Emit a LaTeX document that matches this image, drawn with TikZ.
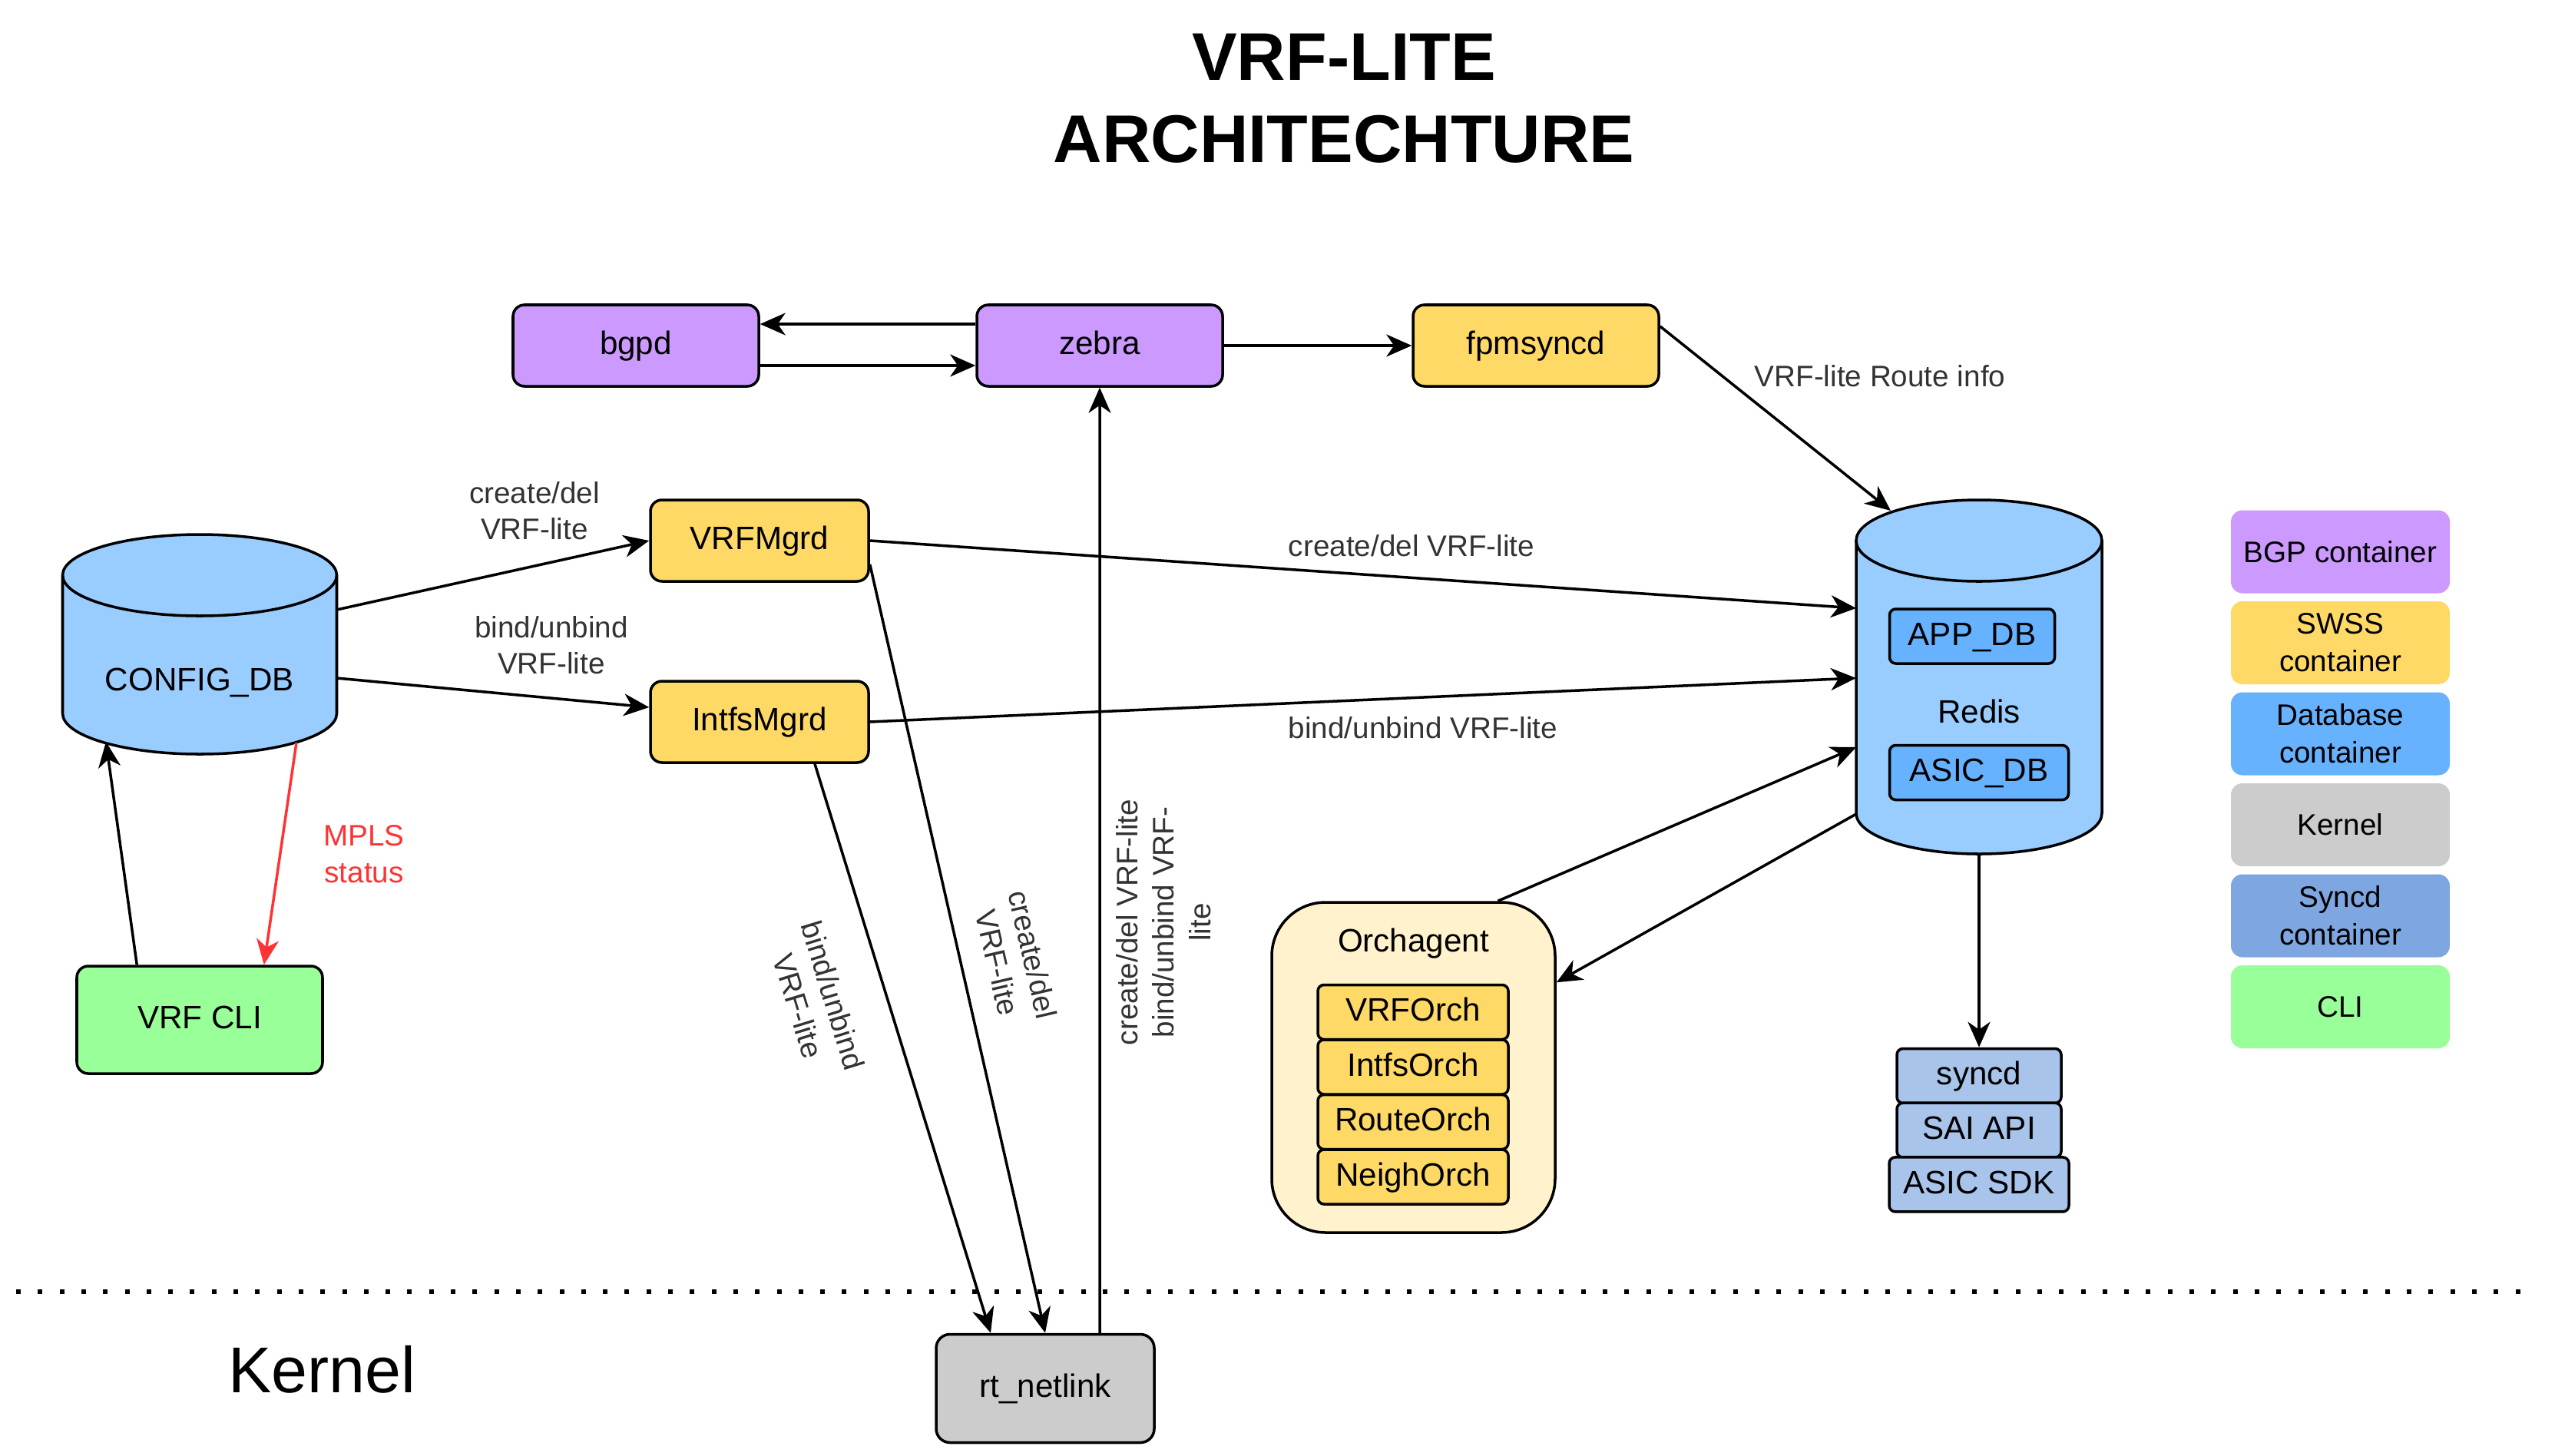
\documentclass[tikz,border=0pt]{standalone}
\usepackage{fontspec}
\setmainfont{Liberation Sans}
\usetikzlibrary{arrows.meta,backgrounds}

\definecolor{bgppurple}{HTML}{CC99FF}
\definecolor{swssyellow}{HTML}{FFD966}
\definecolor{dbblue}{HTML}{99CCFF}
\definecolor{dbinner}{HTML}{66B2FF}
\definecolor{kernelgray}{HTML}{CCCCCC}
\definecolor{syncdblue}{HTML}{7EA6E0}
\definecolor{syncdbox}{HTML}{A9C4EB}
\definecolor{cligreen}{HTML}{99FF99}
\definecolor{orchfill}{HTML}{FFF2CC}
\definecolor{mplsred}{HTML}{FF3333}

\begin{document}
\begin{tikzpicture}[
        font=\fontsize{12}{14}\selectfont,
        titletext/.style={font=\bfseries\fontsize{25}{30.4}\selectfont,align=center,inner sep=0pt},
        box/.style={draw,line width=1pt,rounded corners=0.15cm,minimum height=1.06cm,inner sep=0pt,text height=0.72em,text depth=0.05em},
        bgpbox/.style={box,fill=bgppurple,minimum width=3.2cm},
        swssbox/.style={box,fill=swssyellow,minimum width=2.84cm},
        stackbox/.style={draw,line width=1pt,rounded corners=0.08cm,minimum height=0.71cm,inner sep=0pt,text height=0.72em,text depth=0.05em},
        dbbody/.style={inner sep=0pt,outer sep=0pt},
        dbline/.style={draw,line width=1pt,fill=dbblue},
        orchbox/.style={draw,line width=1pt,fill=orchfill,rounded corners=0.7cm,minimum width=3.69cm,minimum height=4.30cm},
        lbl/.style={font=\fontsize{11}{13.5}\selectfont,align=center,text=black!80,inner sep=1pt},
        legendbox/.style={rounded corners=0.15cm,minimum width=2.85cm,minimum height=1.08cm,align=center,inner sep=0pt,font=\fontsize{11}{14}\selectfont},
        conn/.style={line width=1pt,-{Stealth[length=0.33cm,width=0.29cm,inset=0.1cm]}}
    ]
        \useasboundingbox (0,0) rectangle (33.27,-18.96);

        \node[titletext] (Title) at (17.5,-1.28) {VRF-LITE\\ARCHITECHTURE};

        % BGP and SWSS daemons
        \node[bgpbox] (Bgpd) at (8.28,-4.50) {bgpd};
        \node[bgpbox] (Zebra) at (14.32,-4.50) {zebra};
        \node[swssbox,minimum width=3.2cm] (Fpmsyncd) at (20.00,-4.50) {fpmsyncd};

        \node[swssbox] (VRFMgrd) at (9.89,-7.04) {VRFMgrd};
        \node[swssbox] (IntfsMgrd) at (9.89,-9.40) {IntfsMgrd};

        % Databases, cylinders go behind
        \node[dbbody,minimum width=3.57cm,minimum height=1.80cm,text depth=0.15cm] (ConfigDB) at (2.60,-8.92) {CONFIG\_DB};
        \node[dbbody,minimum width=3.2cm,minimum height=3.55cm,text depth=0.16cm] (Redis) at (25.77,-9.345) {Redis};
        \node[stackbox,fill=dbinner,minimum width=2.15cm] (AppDB) at (25.68,-8.285) {APP\_DB};
        \node[stackbox,fill=dbinner,minimum width=2.33cm] (AsicDB) at (25.77,-10.06) {ASIC\_DB};

        \begin{scope}[on background layer]
            \foreach \db/\r in {ConfigDB/1.785,Redis/1.6}
            {
                \draw[dbline] ([yshift=0.53cm]\db.north west) -- ([yshift=0.53cm]\db.south west)
                arc[start angle=180,end angle=360,x radius=\r cm,y radius=0.53cm]
                -- ([yshift=0.53cm]\db.north east)
                arc[start angle=0,end angle=180,x radius=\r cm,y radius=0.53cm] -- cycle;
                \draw[line width=1pt] ([yshift=0.53cm]\db.north west)
                arc[start angle=180,end angle=360,x radius=\r cm,y radius=0.53cm];
            }
        \end{scope}

        \node[box,fill=cligreen,minimum width=3.2cm,minimum height=1.40cm] (VRFCLI) at (2.60,-13.28) {VRF CLI};

        % Orchagent
        \node[orchbox] (Orchagent) at (18.405,-13.90) {};
        \node (OrchagentName) at ([yshift=-0.55cm]Orchagent.north) {Orchagent};
        \foreach \o [count=\i from 0] in {VRFOrch,IntfsOrch,RouteOrch,NeighOrch}
            \node[stackbox,fill=swssyellow,minimum width=2.48cm] (\o) at (18.40,{-13.18-0.715*\i}) {\o};

        % Syncd
        \foreach \s/\t/\w [count=\i from 0] in {Syncd/syncd/2.14,SaiApi/SAI API/2.14,AsicSdk/ASIC SDK/2.34}
            \node[stackbox,fill=syncdbox,minimum width=\w cm] (\s) at (25.77,{-14.01-0.707*\i}) {\t};

        % Kernel
        \draw[line width=0.06cm,dash pattern=on 0.06cm off 0.223cm] (0.21,-16.82) -- (33.0,-16.82);
        \node[font=\fontsize{24}{28}\selectfont] (Kernel) at (4.19,-17.83) {Kernel};
        \node[box,fill=kernelgray,minimum width=2.84cm,minimum height=1.41cm,rounded corners=0.18cm] (RtNetlink) at (13.61,-18.08) {rt\_netlink};

        % Legend
        \foreach \c/\t [count=\i from 0] in {bgppurple/BGP container,swssyellow/SWSS\\container,dbinner/Database\\container,kernelgray/Kernel,syncdblue/Syncd\\container,cligreen/CLI}
            \node[legendbox,fill=\c] (Legend\i) at (30.475,{-7.185-1.185*\i}) {\t};

        \draw[conn] ([yshift=0.28cm]Zebra.west) -- ([yshift=0.28cm]Bgpd.east);
        \draw[conn] ([yshift=-0.26cm]Bgpd.east) -- ([yshift=-0.26cm]Zebra.west);
        \draw[conn] (Zebra) -- (Fpmsyncd);
        \draw[conn] ([yshift=0.25cm]Fpmsyncd.east) -- ([xshift=0.45cm,yshift=0.92cm]Redis.north west);

        \draw[conn] ([yshift=0.08cm]ConfigDB.north east) -- (VRFMgrd.west);
        \draw[conn] ([yshift=0.09cm]ConfigDB.east) -- ([yshift=0.19cm]IntfsMgrd.west);
        \draw[conn] ([xshift=0.8cm]VRFCLI.north west) -- ([xshift=0.565cm,yshift=0.16cm]ConfigDB.south west);
        \draw[conn,mplsred] ([xshift=-0.525cm,yshift=0.15cm]ConfigDB.south east) -- ([xshift=-0.78cm]VRFCLI.north east);

        \draw[conn] (VRFMgrd.east) -- ([yshift=-0.35cm]Redis.north west);
        \draw[conn] (IntfsMgrd.east) -- ([yshift=-1.26cm]Redis.north west);
        \draw[conn] ([xshift=1.1cm]Orchagent.north) -- ([yshift=-2.16cm]Redis.north west);
        \draw[conn] ([yshift=-3.03cm]Redis.north west) -- ([yshift=-1.06cm]Orchagent.north east);
        \draw[conn] (Redis.south) -- (Syncd.north);

        \draw[conn] ([xshift=0.72cm]IntfsMgrd.south) -- ([xshift=-0.71cm]RtNetlink.north);
        \draw[conn] ([yshift=-0.31cm]VRFMgrd.east) -- (RtNetlink.north);
        \draw[conn] ([xshift=0.71cm]RtNetlink.north) -- (Zebra.south);

        \node[lbl] (LblCreateCfg) at (6.96,-6.65) {create/del\\VRF-lite};
        \node[lbl] (LblBindCfg) at (7.18,-8.40) {bind/unbind\\VRF-lite};
        \node[lbl,text=mplsred] (LblMpls) at (4.74,-11.12) {MPLS\\status};
        \node[lbl] (LblCreateRedis) at (18.38,-7.11) {create/del VRF-lite};
        \node[lbl] (LblBindRedis) at (18.53,-9.48) {bind/unbind VRF-lite};
        \node[lbl] (LblRoute) at (24.48,-4.90) {VRF-lite Route info};
        \node[lbl,rotate=-73] (LblBindRt) at (10.62,-13.03) {bind/unbind\\VRF-lite};
        \node[lbl,rotate=-77] (LblCreateRt) at (13.22,-12.48) {create/del\\VRF-lite};
        \node[lbl,rotate=90] (LblZebra) at (15.15,-12.01) {create/del VRF-lite\\bind/unbind VRF-\\lite};
    \end{tikzpicture}
\end{document}
